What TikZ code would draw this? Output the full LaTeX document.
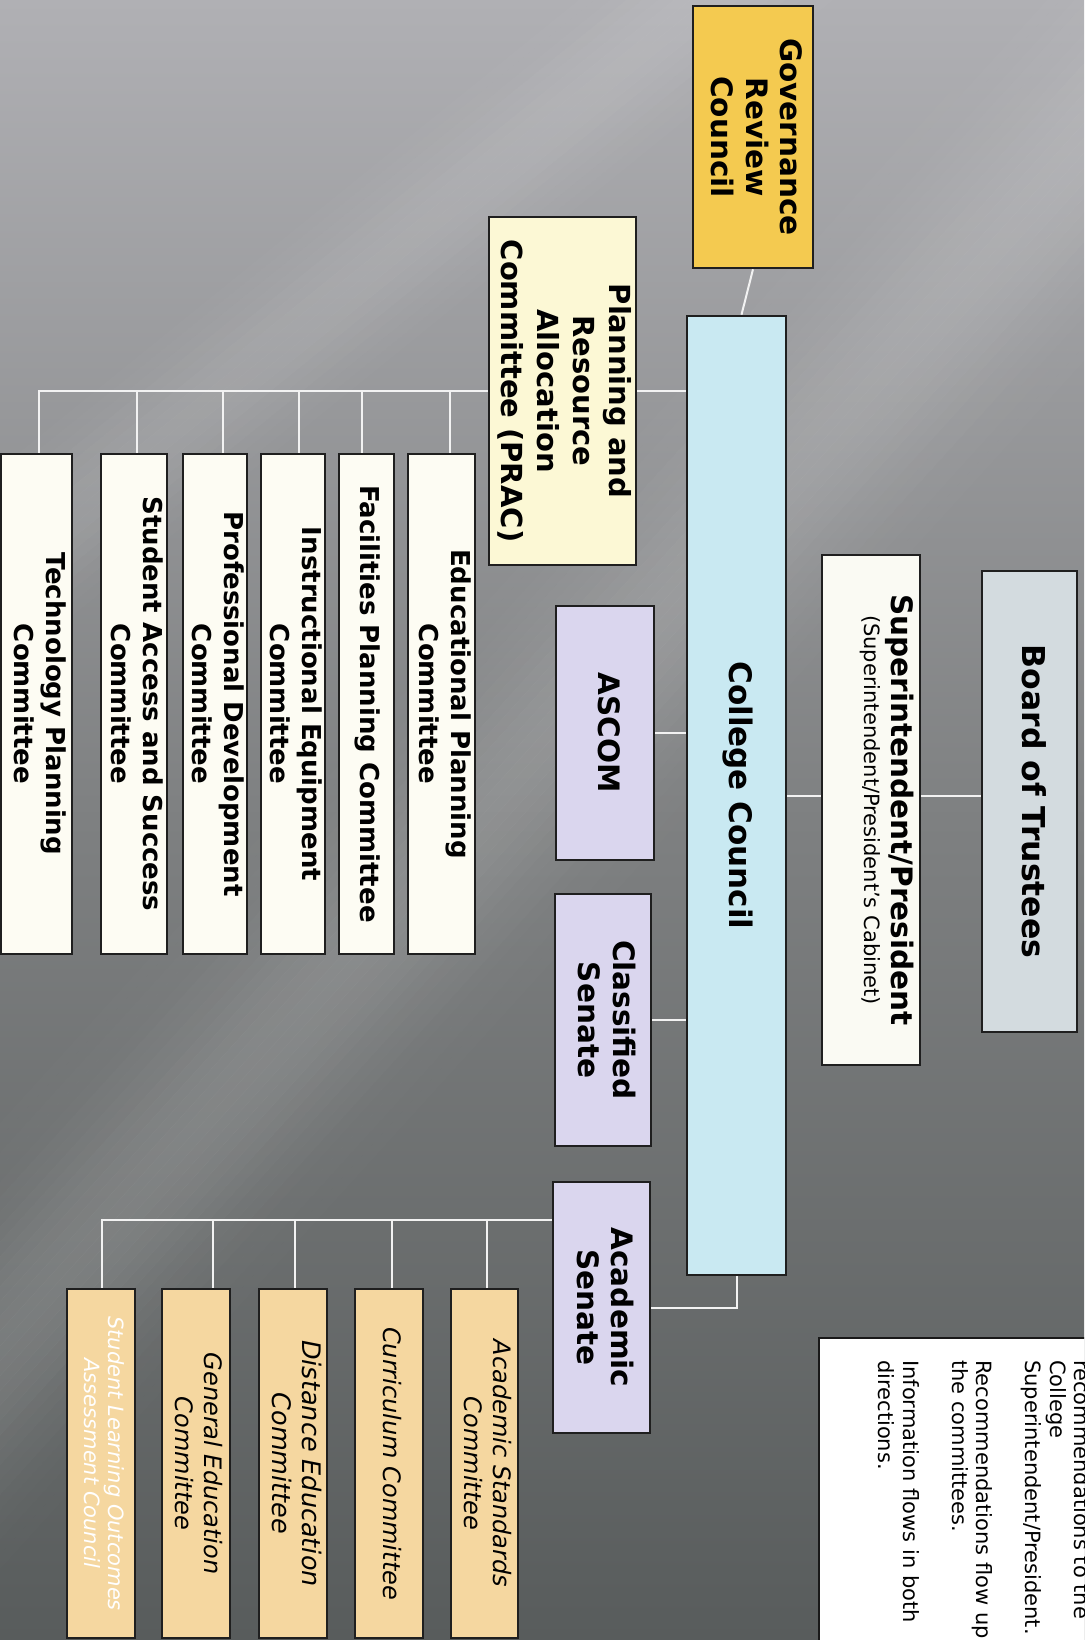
\documentclass[tikz,border=0pt]{standalone}
\usepackage{fontspec}
\setmainfont{DejaVu Sans}
\usetikzlibrary{calc}
\pgfdeclarelayer{bg}
\pgfdeclarelayer{links}
\pgfsetlayers{bg,links,main}

\definecolor{grcY}{RGB}{244,202,80}
\definecolor{ccBlue}{RGB}{201,233,242}
\definecolor{boardG}{RGB}{211,219,223}
\definecolor{supW}{RGB}{250,250,243}
\definecolor{pracY}{RGB}{252,248,213}
\definecolor{lavC}{RGB}{218,214,238}
\definecolor{childW}{RGB}{253,252,243}
\definecolor{tanC}{RGB}{245,215,160}
\definecolor{linkC}{RGB}{242,242,242}
\definecolor{bgTop}{RGB}{176,176,180}
\definecolor{bgMid}{RGB}{126,128,129}
\definecolor{bgBot}{RGB}{88,92,92}

\newcommand\rt[1]{\rotatebox{-90}{\begin{tabular}{@{}c@{}}#1\end{tabular}}}

\tikzset{
  orgbox/.style={draw=black!88, line width=2.6pt, inner sep=0pt},
  link/.style={draw=linkC, line width=2pt},
  thinlink/.style={draw=linkC, line width=1.6pt},
  headfont/.style={font=\bfseries\fontsize{29.5}{34.5}\selectfont},
  childfont/.style={font=\bfseries\fontsize{26}{32}\selectfont},
  acfont/.style={font=\itshape\fontsize{24}{29}\selectfont},
  pchild/.style={orgbox, fill=childW, minimum height=500pt, childfont},
  achild/.style={orgbox, fill=tanC, minimum height=349pt, acfont},
}

\begin{document}
\begin{tikzpicture}[x=1pt,y=-1pt]
\useasboundingbox (0,0) rectangle (1084,1640);

\begin{pgfonlayer}{bg}
\begin{scope}
\clip (0,0) rectangle (1084,1640);
\shade[top color=bgTop, bottom color=bgBot, middle color=bgMid] (0,0) rectangle (1084,1640);
% soft light ray A (upper right to lower left)
\coordinate (pa) at (1499,-304);
\coordinate (qa) at (-703,2120);
\foreach \o in {-200,-190,...,190} {
  \pgfmathsetmacro\oo{\o+10}
  \pgfmathsetmacro\op{0.13*exp(-((\o+5)/85)^2)}
  \fill[white, opacity=\op] ($(pa)!\o pt!90:(qa)$) -- ($(qa)!\o pt!-90:(pa)$) -- ($(qa)!\oo pt!-90:(pa)$) -- ($(pa)!\oo pt!90:(qa)$) -- cycle;
}
% soft light ray B (upper band)
\coordinate (pb) at (1000,-238);
\coordinate (qb) at (-400,895);
\foreach \o in {-120,-110,...,110} {
  \pgfmathsetmacro\oo{\o+10}
  \pgfmathsetmacro\op{0.10*exp(-((\o+5)/55)^2)}
  \fill[white, opacity=\op] ($(pb)!\o pt!90:(qb)$) -- ($(qb)!\o pt!-90:(pb)$) -- ($(qb)!\oo pt!-90:(pb)$) -- ($(pb)!\oo pt!90:(qb)$) -- cycle;
}
\end{scope}
\end{pgfonlayer}

\begin{scope}
\clip (0,0) rectangle (1084,1640);
% top level
\node[orgbox, fill=grcY, minimum width=120pt, minimum height=262pt, headfont] (grc) at (753,137) {\rt{Governance\\Review\\Council}};
\node[orgbox, fill=ccBlue, minimum width=99pt, minimum height=959pt, font=\bfseries\fontsize{31}{36}\selectfont] (cc) at (736.5,795.5) {\rt{College Council}};
\node[orgbox, fill=boardG, minimum width=95pt, minimum height=461pt, font=\bfseries\fontsize{31.5}{36}\selectfont] (board) at (1029.5,801.5) {\rt{Board of Trustees}};
\node[orgbox, fill=supW, minimum width=98pt, minimum height=510pt, font=\fontsize{21}{24}\selectfont] (sup) at (871,810) {\hspace*{30pt}\rotatebox{-90}{\begin{tabular}{@{}c@{}}{\bfseries\fontsize{29.5}{30}\selectfont Superintendent/President}\\[3pt]{\fontsize{21}{24}\selectfont (Superintendent/President’s Cabinet)}\end{tabular}}};
\node[orgbox, fill=pracY, minimum width=147pt, minimum height=348pt, font=\bfseries\fontsize{29}{36}\selectfont] (prac) at (562.5,391) {\rt{Planning and\\Resource\\Allocation\\Committee (PRAC)}};
\node[orgbox, fill=lavC, minimum width=98pt, minimum height=254pt, headfont] (ascom) at (605,733) {\rt{ASCOM}};
\node[orgbox, fill=lavC, minimum width=96pt, minimum height=252pt, headfont] (cls) at (603,1020) {\rt{Classified\\Senate}};
\node[orgbox, fill=lavC, minimum width=97pt, minimum height=251pt, headfont] (acs) at (601.5,1307.5) {\rt{Academic\\Senate}};

% PRAC committees
\node[pchild, minimum width=67pt] (edu) at (441.5,704) {\rt{Educational Planning\\Committee}};
\node[pchild, minimum width=55pt] (fac) at (366.5,704) {\rt{Facilities Planning Committee}};
\node[pchild, minimum width=60pt] (ins) at (293,704) {\rt{Instructional Equipment\\Committee}};
\node[pchild, minimum width=64pt] (pro) at (215,704) {\rt{Professional Development\\Committee}};
\node[pchild, minimum width=66pt] (stu) at (134,704) {\rt{Student Access and Success\\Committee}};
\node[pchild, minimum width=71pt] (tec) at (36.5,704) {\rt{Technology Planning\\Committee}};

% Academic Senate committees
\node[achild, minimum width=67pt] (asc) at (484.5,1463.5) {\rt{Academic Standards\\Committee}};
\node[achild, minimum width=68pt] (cur) at (389,1463.5) {\rt{Curriculum Committee}};
\node[achild, minimum width=68pt, font=\itshape\fontsize{25.5}{30}\selectfont] (dis) at (293,1463.5) {\rt{Distance Education\\Committee}};
\node[achild, minimum width=68pt] (gen) at (196,1463.5) {\rt{General Education\\Committee}};
\node[achild, minimum width=68pt, text=white, font=\itshape\fontsize{21}{23.5}\selectfont] (slo) at (101,1463.5) {\rt{Student Learning Outcomes\\Assessment Council}};

% legend
\node[draw=black!90, line width=2.6pt, fill=white, minimum width=291pt, minimum height=332pt] (legend) at (964.5,1504) {};
\node[rotate=-90, anchor=north west, inner sep=0pt, align=left, font=\fontsize{21}{24.5}\selectfont] (legtxt) at (1091,1360) {recommendations to the\\College\\Superintendent/President.\\[24.5pt]Recommendations flow up\\the committees.\\[24.5pt]Information flows in both\\directions.};
\end{scope}

\begin{pgfonlayer}{links}
\draw[link] (grc.south) -- ([xshift=5pt]cc.north);
\draw[link] (cc.east) -- (cc.east -| sup.west);
\draw[link] (sup.east |- cc.east) -- (board.west |- cc.east);
\draw[link] (prac.east) -- (prac.east -| cc.west);
\draw[link] (ascom.east) -- (ascom.east -| cc.west);
\draw[link] (cls.east) -- (cls.east -| cc.west);
\draw[link] (cc.south) |- (acs.east);
% PRAC bus
\draw[thinlink] (prac.west) -| ([xshift=2.5pt]tec.north);
\foreach \n/\dx in {edu/8.5, fac/-4.5, ins/6, pro/8, stu/3}
  \draw[thinlink] ([xshift=\dx pt]\n.north) -- ([xshift=\dx pt]\n.north |- prac.west);
% Academic Senate bus
\coordinate (abus) at ([yshift=-39pt]acs.north west);
\draw[link] (abus) -| ([xshift=1pt]slo.north);
\foreach \n/\dx in {asc/2.5, cur/3, dis/2, gen/17}
  \draw[link] ([xshift=\dx pt]\n.north) -- ([xshift=\dx pt]\n.north |- abus);
\end{pgfonlayer}
\end{tikzpicture}
\end{document}
